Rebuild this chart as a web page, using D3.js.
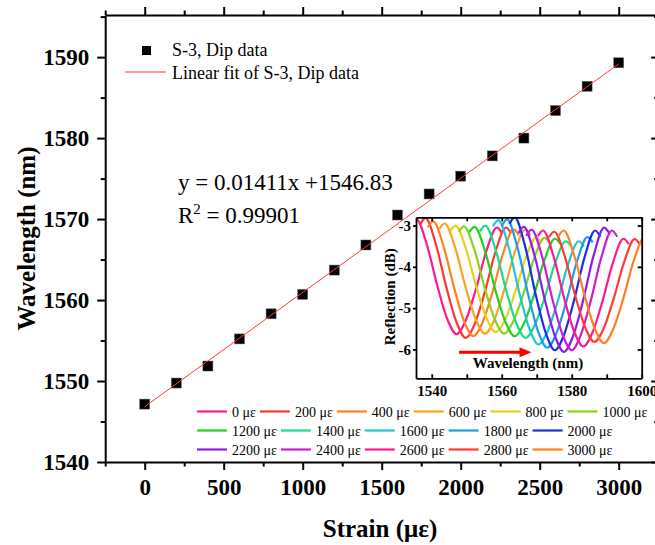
<!DOCTYPE html>
<html>
<head>
<meta charset="utf-8">
<script src="https://cdn.jsdelivr.net/npm/d3@7"></script>
<style>
body { margin: 0; background: #fff; }
svg { display: block; font-family: "Liberation Serif", "Times New Roman", serif; }
svg text { font-family: "Liberation Serif", "Times New Roman", serif; }
</style>
</head>
<body>
<div id="chart"></div>
<script>
// main data: dip wavelength vs strain
var strain = [0, 200, 400, 600, 800, 1000, 1200, 1400, 1600, 1800, 2000, 2200, 2400, 2600, 2800, 3000];
var dipWavelength = [1547.15, 1549.75, 1551.85, 1555.2, 1558.3, 1560.7, 1563.7, 1566.8, 1570.5, 1573.1, 1575.3, 1577.8, 1580.0, 1583.4, 1586.4, 1589.3];
var fitStrain = [0, 3000];
var fitWavelength = [1546.83, 1589.16];

var xTicks = [0, 500, 1000, 1500, 2000, 2500, 3000];
var xMinor = [-250, 250, 750, 1250, 1750, 2250, 2750, 3250];
var yTicks = [1540, 1550, 1560, 1570, 1580, 1590];
var yMinor = [1545, 1555, 1565, 1575, 1585, 1595];

// inset: reflection spectra, one per strain step
var specLabels = ["0", "200", "400", "600", "800", "1000", "1200", "1400", "1600", "1800", "2000", "2200", "2400", "2600", "2800", "3000"];
var specColors = ["#ff1a8c", "#ff3535", "#ff8020", "#f7a51c", "#e6d21a", "#8cd21a", "#1ed21e", "#1adb8c", "#1ec8d2", "#1e9bf0", "#1a2ee6", "#8a1ee6", "#c81ed2", "#ff1a8c", "#ff3a3a", "#ff8020"];
var spectra = [
    [[1534.1,-2.99],[1535.6,-2.85],[1538.6,-3.46],[1541.6,-4.46],[1544.6,-5.30],[1547.1,-5.63],[1549.6,-5.32],[1552.6,-4.55],[1555.6,-3.62],[1558.6,-3.05],[1560.1,-3.18]],
    [[1536.7,-2.97],[1538.2,-2.82],[1541.2,-3.46],[1544.2,-4.50],[1547.2,-5.37],[1549.7,-5.72],[1552.2,-5.40],[1555.2,-4.60],[1558.2,-3.64],[1561.2,-3.05],[1562.7,-3.18]],
    [[1538.9,-3.04],[1540.4,-2.90],[1543.4,-3.51],[1546.4,-4.51],[1549.4,-5.35],[1551.9,-5.68],[1554.4,-5.37],[1557.4,-4.60],[1560.4,-3.67],[1563.4,-3.10],[1564.9,-3.23]],
    [[1542.2,-3.08],[1543.7,-2.95],[1546.7,-3.54],[1549.7,-4.50],[1552.7,-5.30],[1555.2,-5.62],[1557.7,-5.32],[1560.7,-4.56],[1563.7,-3.65],[1566.7,-3.10],[1568.2,-3.23]],
    [[1545.3,-3.13],[1546.8,-3.00],[1549.8,-3.57],[1552.8,-4.50],[1555.8,-5.27],[1558.3,-5.58],[1560.8,-5.31],[1563.8,-4.62],[1566.8,-3.80],[1569.8,-3.30],[1571.3,-3.41]],
    [[1547.7,-3.15],[1549.2,-3.02],[1552.2,-3.59],[1555.2,-4.53],[1558.2,-5.31],[1560.7,-5.62],[1563.2,-5.34],[1566.2,-4.65],[1569.2,-3.81],[1572.2,-3.30],[1573.7,-3.42]],
    [[1550.7,-3.16],[1552.2,-3.03],[1555.2,-3.61],[1558.2,-4.57],[1561.2,-5.36],[1563.7,-5.68],[1566.2,-5.40],[1569.2,-4.69],[1572.2,-3.84],[1575.2,-3.32],[1576.7,-3.44]],
    [[1553.8,-3.14],[1555.3,-3.00],[1558.3,-3.60],[1561.3,-4.58],[1564.3,-5.39],[1566.8,-5.72],[1569.3,-5.44],[1572.3,-4.74],[1575.3,-3.90],[1578.3,-3.38],[1579.8,-3.50]],
    [[1557.5,-3.02],[1559.0,-2.87],[1562.0,-3.53],[1565.0,-4.62],[1568.0,-5.52],[1570.5,-5.88],[1573.0,-5.58],[1576.0,-4.83],[1579.0,-3.93],[1582.0,-3.38],[1583.5,-3.51]],
    [[1560.0,-3.01],[1561.5,-2.85],[1564.5,-3.53],[1567.5,-4.65],[1570.5,-5.59],[1573.0,-5.96],[1575.5,-5.64],[1578.5,-4.83],[1581.5,-3.87],[1584.5,-3.28],[1586.0,-3.41]],
    [[1562.2,-2.96],[1563.7,-2.80],[1566.7,-3.51],[1569.7,-4.67],[1572.7,-5.63],[1575.2,-6.02],[1577.7,-5.67],[1580.7,-4.80],[1583.7,-3.76],[1586.7,-3.12],[1588.2,-3.27]],
    [[1564.8,-3.18],[1566.3,-3.03],[1569.3,-3.70],[1572.3,-4.79],[1575.3,-5.70],[1577.8,-6.06],[1580.3,-5.70],[1583.3,-4.80],[1586.3,-3.71],[1589.3,-3.05],[1590.8,-3.20]],
    [[1567.0,-3.25],[1568.5,-3.10],[1571.5,-3.74],[1574.5,-4.79],[1577.5,-5.67],[1580.0,-6.02],[1582.5,-5.67],[1585.5,-4.80],[1588.5,-3.76],[1591.5,-3.12],[1593.0,-3.27]],
    [[1570.3,-3.26],[1571.8,-3.12],[1574.8,-3.74],[1577.8,-4.75],[1580.8,-5.59],[1583.3,-5.93],[1585.8,-5.62],[1588.8,-4.83],[1591.8,-3.89],[1594.8,-3.32],[1596.3,-3.45]],
    [[1573.5,-3.28],[1575.0,-3.15],[1578.0,-3.74],[1581.0,-4.70],[1584.0,-5.50],[1586.5,-5.82],[1589.0,-5.52],[1592.0,-4.77],[1595.0,-3.88],[1598.0,-3.33],[1599.5,-3.46]],
    [[1576.2,-3.26],[1577.7,-3.12],[1580.7,-3.72],[1583.7,-4.70],[1586.7,-5.52],[1589.2,-5.85],[1591.7,-5.54],[1594.7,-4.78],[1597.7,-3.86],[1600.7,-3.30],[1602.2,-3.43]]
];
var insetXTicks = [1540, 1560, 1580, 1600];
var insetXMinor = [1550, 1570, 1590];
var insetYTicks = [-3, -4, -5, -6];

var width = 655, height = 545;
var serif = "Liberation Serif, Times New Roman, serif";

var svg = d3.select("#chart")
    .append("svg")
    .attr("width", width)
    .attr("height", height);

var x = d3.scaleLinear().domain([-250, 3250]).range([105.2, 658.2]);
var y = d3.scaleLinear().domain([1540, 1595.2]).range([462, 15]);

function styleAxis(g, sw) {
    g.attr("font-family", serif);
    g.select(".domain").attr("stroke-width", sw);
    g.selectAll(".tick line").attr("stroke-width", sw);
}

// bottom axis
var gx = svg.append("g")
    .attr("transform", "translate(0," + y(1540) + ")")
    .call(d3.axisBottom(x).tickValues(xTicks).tickSize(8).tickSizeOuter(0).tickPadding(9).tickFormat(function(d) { return String(d); }));
gx.selectAll("text").style("font-size", "23px").style("font-weight", "bold").attr("fill", "#000");
styleAxis(gx, 2);
var gxm = svg.append("g")
    .attr("transform", "translate(0," + y(1540) + ")")
    .call(d3.axisBottom(x).tickValues(xMinor).tickSize(4.5).tickSizeOuter(0).tickFormat(""));
gxm.select(".domain").remove();
styleAxis(gxm, 2);

// top axis
var gt = svg.append("g")
    .attr("transform", "translate(0," + y(1595.2) + ")")
    .call(d3.axisTop(x).tickValues(xTicks).tickSize(8).tickSizeOuter(0).tickFormat(""));
styleAxis(gt, 2);
var gtm = svg.append("g")
    .attr("transform", "translate(0," + y(1595.2) + ")")
    .call(d3.axisTop(x).tickValues(xMinor).tickSize(4.5).tickSizeOuter(0).tickFormat(""));
gtm.select(".domain").remove();
styleAxis(gtm, 2);

// left axis
var gy = svg.append("g")
    .attr("transform", "translate(" + x(-250) + ",0)")
    .call(d3.axisLeft(y).tickValues(yTicks).tickSize(8).tickSizeOuter(0).tickPadding(8).tickFormat(function(d) { return String(d); }));
gy.selectAll("text").style("font-size", "23px").style("font-weight", "bold").attr("fill", "#000");
styleAxis(gy, 2);
var gym = svg.append("g")
    .attr("transform", "translate(" + x(-250) + ",0)")
    .call(d3.axisLeft(y).tickValues(yMinor).tickSize(4.5).tickSizeOuter(0).tickFormat(""));
gym.select(".domain").remove();
styleAxis(gym, 2);

// right axis (ticks inward)
var gr = svg.append("g")
    .attr("transform", "translate(" + x(3250) + ",0)")
    .call(d3.axisRight(y).tickValues(yTicks).tickSize(-7).tickSizeOuter(0).tickFormat(""));
styleAxis(gr, 2);
var grm = svg.append("g")
    .attr("transform", "translate(" + x(3250) + ",0)")
    .call(d3.axisRight(y).tickValues(yMinor).tickSize(-4).tickSizeOuter(0).tickFormat(""));
grm.select(".domain").remove();
styleAxis(grm, 2);

// axis titles
svg.append("text")
    .attr("transform", "translate(35," + ((y(1540) + y(1595.2)) / 2) + ") rotate(-90)")
    .attr("text-anchor", "middle")
    .style("font-size", "25px")
    .style("font-weight", "bold")
    .text("Wavelength (nm)");
svg.append("text")
    .attr("x", 380)
    .attr("y", 537)
    .attr("text-anchor", "middle")
    .style("font-size", "25px")
    .style("font-weight", "bold")
    .text("Strain (με)");

// data squares
svg.selectAll(".pt")
    .data(strain)
    .enter()
    .append("rect")
    .attr("class", "pt")
    .attr("x", function(d) { return x(d) - 5; })
    .attr("y", function(d, i) { return y(dipWavelength[i]) - 5; })
    .attr("width", 10)
    .attr("height", 10)
    .attr("fill", "#000")
    .attr("stroke", "#666")
    .attr("stroke-width", 0.5);

// linear fit
var fitLine = d3.line()
    .x(function(d) { return x(d); })
    .y(function(d, i) { return y(fitWavelength[i]); });
svg.append("path")
    .datum(fitStrain)
    .attr("d", fitLine)
    .attr("fill", "none")
    .attr("stroke", "#ff3b3b")
    .attr("stroke-width", 1);

// legend
svg.append("rect").attr("x", 142).attr("y", 46).attr("width", 9).attr("height", 9).attr("fill", "#000");
svg.append("text").attr("x", 172).attr("y", 56).style("font-size", "18px").text("S-3, Dip data");
svg.append("line").attr("x1", 125).attr("x2", 166).attr("y1", 72).attr("y2", 72)
    .attr("stroke", "#ff3b3b").attr("stroke-width", 1);
svg.append("text").attr("x", 172).attr("y", 79).style("font-size", "18px").text("Linear fit of S-3, Dip data");

// equation
svg.append("text").attr("x", 178).attr("y", 190).style("font-size", "23px").text("y = 0.01411x +1546.83");
var r2 = svg.append("text").attr("x", 178).attr("y", 223).style("font-size", "23px");
r2.append("tspan").text("R");
r2.append("tspan").attr("dy", -9).style("font-size", "15px").text("2");
r2.append("tspan").attr("dy", 9).text(" = 0.99901");

// ---------- inset ----------
var ix = d3.scaleLinear().domain([1535.5, 1600]).range([416, 641.7]);
var iy = d3.scaleLinear().domain([-6.7, -2.8]).range([378.3, 217.3]);

var inset = svg.append("g");
inset.append("rect")
    .attr("x", ix(1535.5)).attr("y", iy(-2.8))
    .attr("width", ix(1600) - ix(1535.5)).attr("height", iy(-6.7) - iy(-2.8))
    .attr("fill", "#fff");

svg.append("clipPath").attr("id", "insetClip")
    .append("rect")
    .attr("x", ix(1535.5)).attr("y", iy(-2.8))
    .attr("width", ix(1600) - ix(1535.5)).attr("height", iy(-6.7) - iy(-2.8));

var specLine = d3.line()
    .x(function(d) { return ix(d[0]); })
    .y(function(d) { return iy(d[1]); })
    .curve(d3.curveMonotoneX);

inset.append("g")
    .attr("clip-path", "url(#insetClip)")
    .selectAll("path")
    .data(spectra)
    .enter()
    .append("path")
    .attr("d", specLine)
    .attr("fill", "none")
    .attr("stroke", function(d, i) { return specColors[i]; })
    .attr("stroke-width", 2.2);

// inset axes
var ib = inset.append("g")
    .attr("transform", "translate(0," + iy(-6.7) + ")")
    .call(d3.axisBottom(ix).tickValues(insetXTicks).tickSize(-4).tickSizeOuter(0).tickPadding(7).tickFormat(function(d) { return String(d); }));
ib.selectAll("text").style("font-size", "15px").style("font-weight", "bold").attr("fill", "#000");
styleAxis(ib, 1.8);
var ibm = inset.append("g")
    .attr("transform", "translate(0," + iy(-6.7) + ")")
    .call(d3.axisBottom(ix).tickValues(insetXMinor).tickSize(-4).tickSizeOuter(0).tickFormat(""));
ibm.select(".domain").remove();
styleAxis(ibm, 1.8);

var itp = inset.append("g")
    .attr("transform", "translate(0," + iy(-2.8) + ")")
    .call(d3.axisTop(ix).tickValues(insetXTicks.concat(insetXMinor)).tickSize(-4).tickSizeOuter(0).tickFormat(""));
styleAxis(itp, 1.8);

var il = inset.append("g")
    .attr("transform", "translate(" + ix(1535.5) + ",0)")
    .call(d3.axisLeft(iy).tickValues(insetYTicks).tickSize(3).tickSizeOuter(0).tickPadding(2).tickFormat(function(d) { return String(d); }));
il.selectAll("text").style("font-size", "15px").style("font-weight", "bold").attr("fill", "#000");
styleAxis(il, 1.8);

var ir = inset.append("g")
    .attr("transform", "translate(" + ix(1600) + ",0)")
    .call(d3.axisRight(iy).tickValues(insetYTicks).tickSize(-4).tickSizeOuter(0).tickFormat(""));
styleAxis(ir, 1.8);

inset.append("text")
    .attr("transform", "translate(395," + ((iy(-2.8) + iy(-6.7)) / 2 - 1) + ") rotate(-90)")
    .attr("text-anchor", "middle")
    .style("font-size", "15px")
    .style("font-weight", "bold")
    .text("Reflection (dB)");

inset.append("text")
    .attr("x", ix(1567.5))
    .attr("y", iy(-6.46))
    .attr("text-anchor", "middle")
    .style("font-size", "15px")
    .style("font-weight", "bold")
    .text("Wavelength (nm)");

// red arrow
var ay = iy(-6.07);
inset.append("line")
    .attr("x1", ix(1547.8)).attr("x2", ix(1565.6))
    .attr("y1", ay).attr("y2", ay)
    .attr("stroke", "#ff0000").attr("stroke-width", 3);
inset.append("path")
    .attr("d", "M" + ix(1568.5) + "," + ay + "L" + (ix(1568.5) - 12) + "," + (ay - 5) + "L" + (ix(1568.5) - 12) + "," + (ay + 5) + "Z")
    .attr("fill", "#ff0000");

// inset legend (flows in three rows)
var legRows = [[0, 1, 2, 3, 4, 5], [6, 7, 8, 9, 10], [11, 12, 13, 14, 15]];
var legY = [411.5, 430.5, 449.5];
var leg = svg.append("g");
legRows.forEach(function(row, r) {
    var cx = 197;
    row.forEach(function(k) {
        leg.append("line")
            .attr("x1", cx).attr("x2", cx + 30)
            .attr("y1", legY[r]).attr("y2", legY[r])
            .attr("stroke", specColors[k]).attr("stroke-width", 2.2);
        var t = leg.append("text")
            .attr("x", cx + 35)
            .attr("y", legY[r] + 5)
            .style("font-size", "14px")
            .text(specLabels[k] + " με");
        cx = cx + 35 + t.node().getComputedTextLength() + 4;
    });
});
</script>
</body>
</html>
